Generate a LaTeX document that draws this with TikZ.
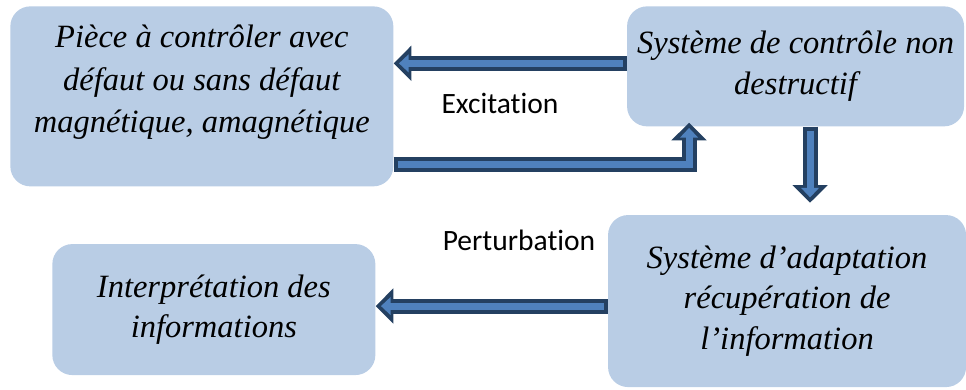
\documentclass[tikz,border=0pt]{standalone}
\usepackage{fontspec}
\setmainfont{Liberation Serif}
\newfontfamily\labelfont[Ligatures=NoCommon]{Carlito}
\usetikzlibrary{arrows.meta,positioning}
\definecolor{boxblue}{RGB}{185,205,229}
\definecolor{arrowdark}{RGB}{36,64,97}
\definecolor{arrowlight}{RGB}{79,129,189}

\begin{document}
\begin{tikzpicture}[
		block/.style={fill=boxblue, rounded corners=0.4cm, inner sep=0pt, align=center, font=\fontsize{18.5}{23}\selectfont\itshape},
		flow/.style={draw=arrowdark, line width=8.5pt, -{Triangle[width=19.5pt, length=10pt]},
			postaction={draw=arrowlight, line width=4pt, shorten <=2.2pt, shorten >=3pt, -{Triangle[width=10pt, length=5.5pt]}}},
		tag/.style={font=\labelfont\fontsize{16.8}{20}\selectfont},
	]
		\useasboundingbox (0,0) rectangle (19.32,-7.78);
		\node[block, minimum width=7.66cm, minimum height=3.6cm, text depth=0.7cm, font=\fontsize{18.5}{24}\selectfont\itshape, anchor=north west] (piece) at (0.2,-0.12) {Pièce à contrôler avec\\défaut ou sans défaut\\magnétique, amagnétique};
		\node[block, minimum width=6.74cm, minimum height=2.4cm, right=4.66cm of piece.north east, anchor=north west] (cnd) {Système de contrôle non\\destructif};
		\node[block, minimum width=7.16cm, minimum height=3.44cm, below=1.76cm of cnd.south west, anchor=north west, xshift=-0.38cm] (adapt) {Système d’adaptation\\récupération de\\l’information};
		\node[block, minimum width=6.46cm, minimum height=2.62cm, below=1.14cm of piece.south west, anchor=north west, xshift=0.84cm] (interp) {Interprétation des\\informations};
		\coordinate (dropend) at ([yshift=0.24cm]adapt.north);

		\draw[flow] ([yshift=0.06cm]cnd.west) -- ([yshift=0.06cm]cnd.west -| piece.east);
		\draw[flow] ([yshift=-1.36cm]piece.east) -| ([xshift=-2.13cm, yshift=0.08cm]cnd.south);
		\draw[flow] ([xshift=0.29cm]cnd.south) -- ([xshift=0.29cm]cnd.south |- dropend);
		\draw[flow] ([yshift=-0.1cm]adapt.west) -- ([yshift=-0.1cm]adapt.west -| interp.east);

		\node[tag] (exc) at (10.0,-2.06) {Excitation};
		\node[tag] (pert) at (10.38,-4.8) {Perturbation};
	\end{tikzpicture}
\end{document}
